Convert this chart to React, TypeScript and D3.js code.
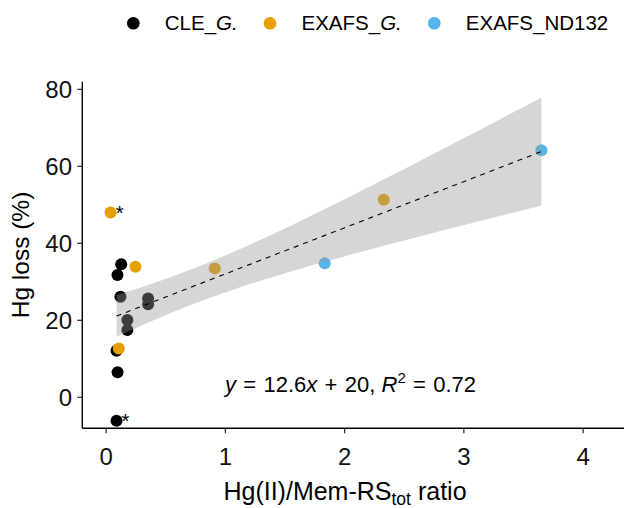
import React from "react";
import * as d3 from "d3";

// ---- data ----
const cleX = [0.126, 0.095, 0.12, 0.352, 0.352, 0.178, 0.178, 0.087, 0.096, 0.087];
const cleY = [34.6, 31.8, 26.1, 25.7, 24.2, 20.1, 17.5, 12.1, 6.5, -6.1];
const cleStar = [false, false, false, false, false, false, false, false, false, true];

const exGX = [0.037, 0.246, 0.106, 0.911, 2.328];
const exGY = [48.0, 33.9, 12.7, 33.5, 51.3];
const exGStar = [true, false, false, false, false];

const ndX = [1.833, 3.65];
const ndY = [34.8, 64.2];
const ndStar = [false, false];

const seriesNames = ["CLE_G.", "EXAFS_G.", "EXAFS_ND132"];
const seriesColors = ["#000000", "#E69F00", "#56B4E9"];

const xTicks = [0, 1, 2, 3, 4];
const yTicks = [0, 20, 40, 60, 80];
const xDomain = [-0.2, 4.343];
const yDomain = [-8.05, 82.0];
const tQuantile = 2.1604; // t(0.975, df = 13)

const W = 627, H = 508;
const panel = { left: 82.3, right: 624, top: 81.7, bottom: 428.3 };

type Pt = { x: number; y: number; star: boolean; g: number };

export default function App() {
  const groups: Pt[][] = [
    cleX.map((x, i) => ({ x, y: cleY[i], star: cleStar[i], g: 0 })),
    exGX.map((x, i) => ({ x, y: exGY[i], star: exGStar[i], g: 1 })),
    ndX.map((x, i) => ({ x, y: ndY[i], star: ndStar[i], g: 2 })),
  ];
  const all = groups.flat();
  const fitPts = all.filter((p) => !p.star);

  const xs = d3.scaleLinear().domain(xDomain).range([panel.left, panel.right]);
  const ys = d3.scaleLinear().domain(yDomain).range([panel.bottom, panel.top]);

  // linear regression + 95% CI
  const n = fitPts.length;
  const mx = d3.mean(fitPts, (p) => p.x)!;
  const my = d3.mean(fitPts, (p) => p.y)!;
  const sxx = d3.sum(fitPts, (p) => (p.x - mx) ** 2);
  const sxy = d3.sum(fitPts, (p) => (p.x - mx) * (p.y - my));
  const b = sxy / sxx;
  const a = my - b * mx;
  const sse = d3.sum(fitPts, (p) => (p.y - a - b * p.x) ** 2);
  const s = Math.sqrt(sse / (n - 2));
  const [x0, x1] = d3.extent(fitPts, (p) => p.x) as [number, number];
  const grid = d3.range(81).map((i) => x0 + ((x1 - x0) * i) / 80);
  const band = grid.map((x) => {
    const yh = a + b * x;
    const se = s * Math.sqrt(1 / n + (x - mx) ** 2 / sxx);
    return { x, lo: yh - tQuantile * se, hi: yh + tQuantile * se, yh };
  });
  const area = d3
    .area<{ x: number; lo: number; hi: number }>()
    .x((d) => xs(d.x))
    .y0((d) => ys(d.lo))
    .y1((d) => ys(d.hi));
  const line = d3
    .line<{ x: number; yh: number }>()
    .x((d) => xs(d.x))
    .y((d) => ys(d.yh));

  const font = "Liberation Sans, Arial, Helvetica, sans-serif";
  const legendX = [133.3, 270, 434.3];

  return (
    <svg
      width={W}
      height={H}
      style={{ position: "absolute", left: 0, top: 0, background: "#fff" }}
      fontFamily={font}
    >
      {/* legend */}
      {seriesNames.map((nm, i) => (
        <g key={nm}>
          <circle cx={legendX[i]} cy={23.3} r={6.3} fill={seriesColors[i]} />
          <text x={legendX[i] + 31.5} y={30} fontSize={20.5} fill="#000">
            {i === 0 ? (
              <>
                CLE_<tspan fontStyle="italic">G.</tspan>
              </>
            ) : i === 1 ? (
              <>
                EXAFS_<tspan fontStyle="italic">G.</tspan>
              </>
            ) : (
              nm
            )}
          </text>
        </g>
      ))}

      {/* points */}
      {all.map((p, i) => (
        <circle key={i} cx={xs(p.x)} cy={ys(p.y)} r={6} fill={seriesColors[p.g]} />
      ))}
      {all
        .filter((p) => p.star)
        .map((p, i) => (
          <text key={"s" + i} x={xs(p.x) + 9} y={ys(p.y) + 7.5} fontSize={20} textAnchor="middle" fill="#000">
            *
          </text>
        ))}

      {/* smooth */}
      <path d={area(band)!} fill="#999999" fillOpacity={0.4} />
      <path d={line(band)!} fill="none" stroke="#000" strokeWidth={1.1} strokeDasharray="5,5" />

      {/* axes */}
      <line x1={panel.left} x2={panel.right} y1={panel.bottom} y2={panel.bottom} stroke="#000" strokeWidth={1.4} />
      <line x1={panel.left} x2={panel.left} y1={panel.top} y2={panel.bottom} stroke="#000" strokeWidth={1.4} />
      {xTicks.map((t) => (
        <g key={"x" + t}>
          <line x1={xs(t)} x2={xs(t)} y1={panel.bottom} y2={panel.bottom + 5} stroke="#333" strokeWidth={1.3} />
          <text x={xs(t)} y={465} fontSize={24} textAnchor="middle" fill="#111">
            {t}
          </text>
        </g>
      ))}
      {yTicks.map((t) => (
        <g key={"y" + t}>
          <line x1={panel.left - 5} x2={panel.left} y1={ys(t)} y2={ys(t)} stroke="#333" strokeWidth={1.3} />
          <text x={72} y={ys(t) + 8.5} fontSize={24} textAnchor="end" fill="#111">
            {t}
          </text>
        </g>
      ))}

      {/* titles */}
      <text x={345} y={500} fontSize={25} textAnchor="middle" fill="#000">
        Hg(II)/Mem-RS
        <tspan fontSize={17.5} dy={5}>tot</tspan>
        <tspan dy={-5}> ratio</tspan>
      </text>
      <text
        transform={`translate(29,${(panel.top + panel.bottom) / 2}) rotate(-90)`}
        fontSize={24.5}
        textAnchor="middle"
        fill="#000"
      >
        Hg loss (%)
      </text>

      {/* equation */}
      <text x={350.5} y={391.7} fontSize={22} textAnchor="middle" fill="#000">
        <tspan fontStyle="italic">y</tspan>{"\u2004=\u200412.6"}<tspan fontStyle="italic">x</tspan>{"\u2004+\u200420, "}
        <tspan fontStyle="italic">R</tspan>
        <tspan fontSize={15} dy={-9}>2</tspan>
        <tspan dy={9}>{"\u2004=\u20040.72"}</tspan>
      </text>
    </svg>
  );
}
